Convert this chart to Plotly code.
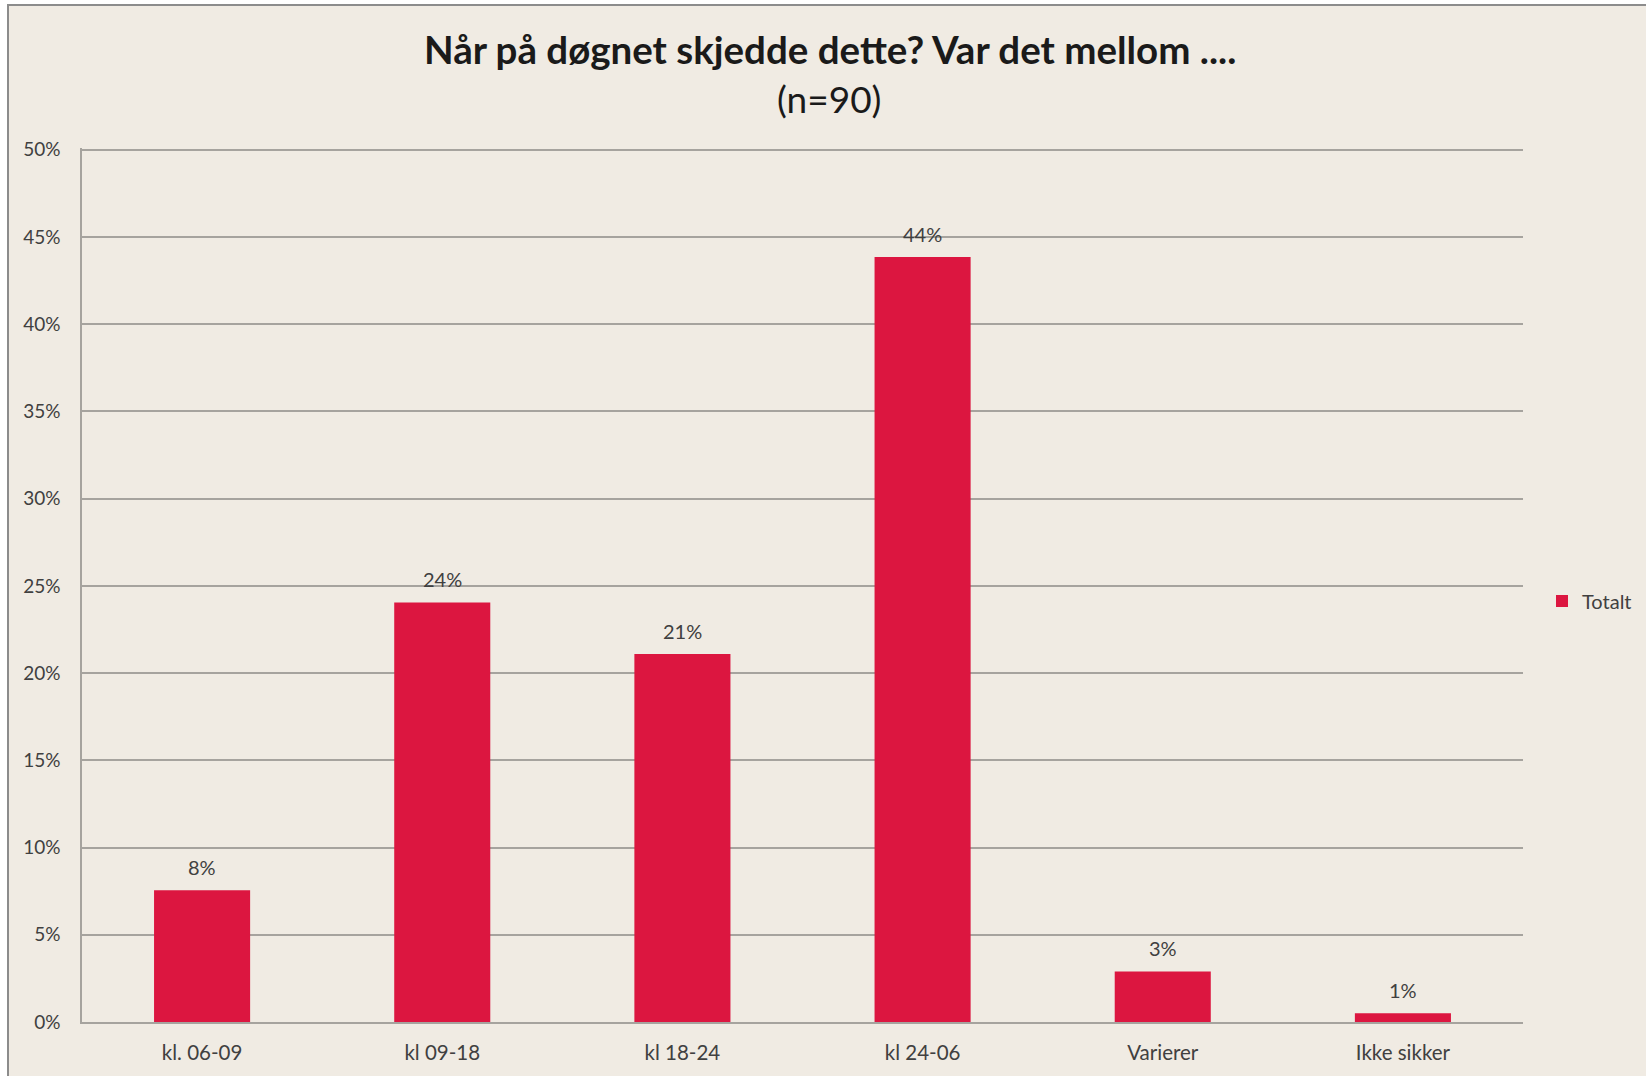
import plotly.graph_objects as go

categories = ["kl. 06-09", "kl 09-18", "kl 18-24", "kl 24-06", "Varierer", "Ikke sikker"]
values = [7.55, 24.05, 21.1, 43.85, 2.9, 0.5]
labels = ["8%", "24%", "21%", "44%", "3%", "1%"]
y_ticks = [0, 5, 10, 15, 20, 25, 30, 35, 40, 45, 50]
y_ticklabels = [f"{v}%" for v in y_ticks]
title_main = "Når på døgnet skjedde dette? Var det mellom ...."
title_sub = "(n=90)"

W, H = 1646, 1076
L, R, T, B = 82, 123, 148, 54
pw, ph = W - L - R, H - T - B

BG = "#F0EBE3"
RED = "#DC1640"
FONT = "Lato"
TXT = "#404040"


def px_x(p):
    return (p - L) / pw


def px_y(p):
    return (H - B - p) / ph


fig = go.Figure()
fig.add_trace(go.Bar(
    x=categories, y=values, name="Totalt",
    marker=dict(color=RED, line=dict(width=0)),
    width=0.4,
))

for c, v, lab in zip(categories, values, labels):
    fig.add_annotation(x=c, y=v, text=lab, showarrow=False, yanchor="bottom",
                       yshift=9, font=dict(family=FONT, size=20, color=TXT))

fig.add_annotation(xref="paper", yref="paper", x=px_x(830), y=px_y(49),
                   xanchor="center", yanchor="middle", showarrow=False,
                   text=f"<b>{title_main}</b>",
                   font=dict(family=FONT, size=38.5, color="#1A1A1A"))
fig.add_annotation(xref="paper", yref="paper", x=px_x(829), y=px_y(98),
                   xanchor="center", yanchor="middle", showarrow=False,
                   text=title_sub,
                   font=dict(family=FONT, size=37, color="#1A1A1A"))

fig.add_shape(type="rect", xref="paper", yref="paper",
              x0=px_x(8), x1=px_x(W + 10), y0=px_y(H + 10), y1=px_y(5),
              fillcolor=BG, line=dict(color="#8C8C8C", width=2), layer="below")

fig.update_layout(
    width=W, height=H,
    margin=dict(l=L, r=R, t=T, b=B, autoexpand=False),
    paper_bgcolor="white",
    plot_bgcolor=BG,
    font=dict(family=FONT, size=19, color=TXT),
    showlegend=True,
    legend=dict(x=px_x(1542), y=px_y(601), xanchor="left", yanchor="middle",
                bgcolor="rgba(0,0,0,0)", font=dict(family=FONT, size=20, color=TXT),
                itemwidth=30),
    bargap=0.6,
)
fig.update_yaxes(
    range=[0, 50.1], tickvals=y_ticks, ticktext=y_ticklabels,
    showgrid=True, gridcolor="#A6A39E", gridwidth=1.5,
    showline=True, linecolor="#A6A39E", linewidth=1.5,
    zeroline=False, ticks="", ticklabelstandoff=16,
    tickfont=dict(family=FONT, size=19, color=TXT),
)
fig.update_xaxes(
    showline=True, linecolor="#A6A39E", linewidth=1.5, mirror=False,
    ticks="", ticklabelstandoff=12,
    tickfont=dict(family=FONT, size=20.5, color=TXT),
)

fig.write_html("out.html", config={"displayModeBar": False},
               post_script="document.body.style.margin='0';document.body.style.overflow='hidden';")
